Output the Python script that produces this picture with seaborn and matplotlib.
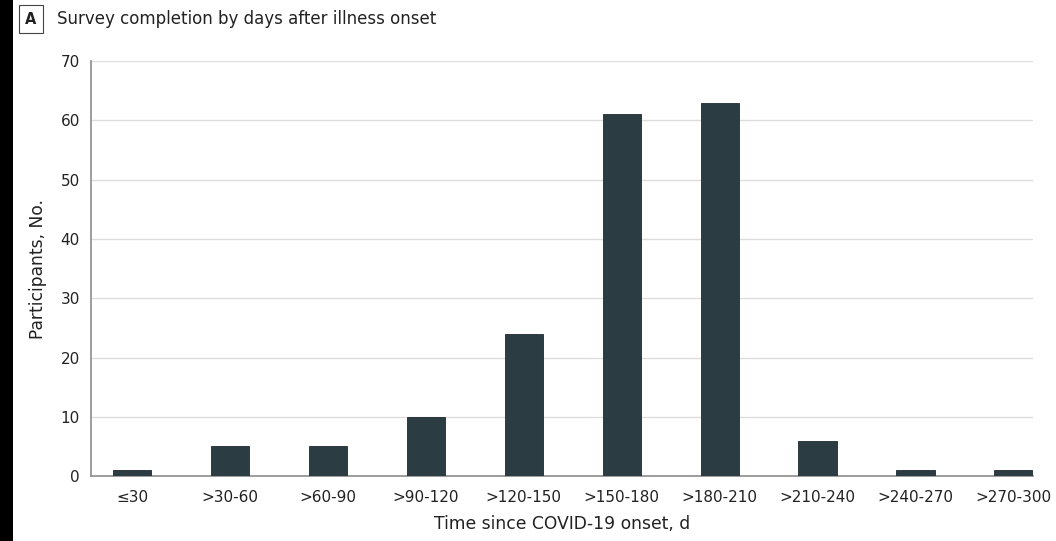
import numpy as np
import matplotlib
matplotlib.use("Agg")
import matplotlib.pyplot as plt
import seaborn as sns
from matplotlib.patches import Rectangle

# Data
categories = ["≤30", ">30-60", ">60-90", ">90-120", ">120-150", ">150-180",
              ">180-210", ">210-240", ">240-270", ">270-300"]
participants = [1, 5, 5, 10, 24, 61, 63, 6, 1, 1]

sns.set_style("white")
plt.rcParams['font.family'] = ['DejaVu Sans']

fig = plt.figure(figsize=(10.56, 5.41), dpi=100)
ax = fig.add_axes([0.0862, 0.12, 0.892, 0.767])

sns.barplot(x=categories, y=participants, ax=ax, color="#2b3d42",
            width=0.39, saturation=1, edgecolor="#1e2b2f", linewidth=0.6, zorder=3)

ax.set_ylim(0, 70)
ax.set_yticks(np.arange(0, 71, 10))
ax.set_xlim(-0.42, 9.2)
ax.yaxis.grid(True, color="#dddddd", linewidth=1, zorder=0)
ax.set_axisbelow(True)
for s in ["top", "right"]:
    ax.spines[s].set_visible(False)
ax.spines["left"].set_color("#8c8c8c")
ax.spines["bottom"].set_color("#8c8c8c")
ax.spines["left"].set_linewidth(1.2)
ax.spines["bottom"].set_linewidth(1.2)
ax.tick_params(axis="y", length=5, color="#8c8c8c", labelsize=11, labelcolor="#222222", pad=3)
ax.tick_params(axis="x", length=0, labelsize=11, labelcolor="#222222", pad=10)
ax.set_xlabel("Time since COVID-19 onset, d", fontsize=12.3, color="#222222", labelpad=7)
ax.set_ylabel("Participants, No.", fontsize=12.3, color="#222222", labelpad=10)

# panel label and title
fig.patches.append(Rectangle((0, 0), 13 / 1056, 1, transform=fig.transFigure,
                             facecolor="black", edgecolor="none"))
fig.text(31 / 1056, 1 - 19 / 541, "A", ha="center", va="center", fontsize=10.5,
         fontweight="bold", color="#222222",
         bbox=dict(boxstyle="square,pad=0.45", facecolor="white", edgecolor="#444444", linewidth=0.8))
fig.text(57 / 1056, 1 - 19 / 541, "Survey completion by days after illness onset",
         ha="left", va="center", fontsize=12, color="#222222")

fig.savefig("out.png", dpi=100)
